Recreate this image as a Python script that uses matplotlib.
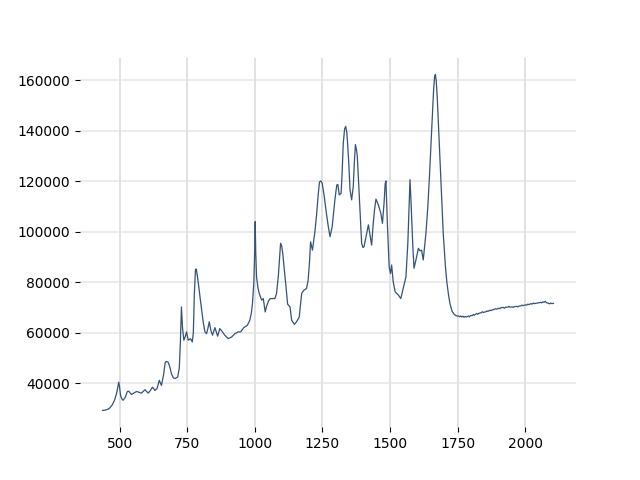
import matplotlib
matplotlib.use('Agg')
import matplotlib.pyplot as plt

# Espectro: (desplazamiento, intensidad)
puntos = [
    (436, 29300), (445, 29400), (455, 29700), (463, 30300), (472, 31500), (481, 33500),
    (489, 36500), (494, 39500), (496, 40500), (499, 38500), (503, 35000), (508, 33800),
    (512, 33300), (520, 34500), (528, 36800), (533, 36900), (543, 35600), (552, 36200),
    (562, 36800), (570, 36500), (580, 36150), (593, 37500), (605, 36150), (613, 37200),
    (621, 38500), (630, 37200), (638, 38000), (646, 41200), (654, 39200), (662, 43500),
    (668, 48300), (672, 48700), (679, 48400), (685, 46500), (691, 43850), (698, 42200),
    (704, 41900), (714, 42500), (720, 46000), (724, 56000), (728, 70300), (732, 62000),
    (737, 57100), (742, 58500), (747, 60400), (753, 57100), (762, 57700), (768, 56400),
    (772, 60000), (776, 76000), (780, 85200), (783, 85300), (787, 82500), (792, 78500),
    (797, 74000), (803, 69000), (809, 64000), (815, 60400), (821, 59700), (826, 61800),
    (831, 64400), (837, 61000), (843, 59100), (852, 62100), (862, 58700), (870, 61700),
    (880, 60400), (889, 59000), (901, 57750), (914, 58400), (926, 59700), (938, 60400),
    (947, 60400), (959, 62100), (972, 63000), (981, 65000), (987, 68000), (991, 71800),
    (996, 80000), (999, 92000), (1001, 104100), (1003, 92000), (1006, 82200),
    (1011, 78000), (1016, 75600), (1025, 73000), (1031, 73600), (1038, 68300),
    (1043, 70500), (1049, 72300), (1055, 73500), (1062, 73600), (1074, 73600),
    (1080, 75600), (1087, 83000), (1092, 91000), (1095, 95500), (1099, 94500),
    (1103, 91500), (1109, 85000), (1115, 78300), (1121, 71400), (1130, 70300),
    (1136, 65000), (1146, 63400), (1154, 64400), (1164, 66300), (1173, 75600),
    (1181, 76900), (1191, 77600), (1197, 80900), (1202, 88000), (1206, 96100),
    (1213, 92800), (1222, 100100), (1228, 106500), (1234, 114500), (1239, 119800),
    (1244, 120200), (1249, 119300), (1256, 114500), (1263, 108700), (1271, 102500),
    (1278, 98100), (1286, 102100), (1296, 112700), (1303, 118600), (1307, 118800),
    (1312, 114700), (1319, 115300), (1323, 124000), (1327, 135200), (1332, 140800),
    (1336, 141800), (1340, 139500), (1343, 135200), (1348, 126000), (1352, 116700),
    (1358, 112700), (1364, 118000), (1368, 127500), (1372, 134600), (1376, 132500),
    (1379, 129900), (1384, 119000), (1389, 108700), (1395, 95500), (1400, 93800),
    (1404, 94200), (1414, 99500), (1420, 102800), (1426, 98800), (1432, 94800),
    (1438, 103400), (1443, 109000), (1448, 113000), (1457, 110700), (1466, 107400),
    (1472, 103400), (1478, 111400), (1482, 119000), (1485, 120200), (1490, 104000),
    (1497, 86000), (1502, 83500), (1506, 86900), (1512, 80200), (1519, 76300),
    (1531, 75000), (1540, 73600), (1549, 77600), (1559, 82200), (1566, 95500),
    (1570, 108000), (1574, 120700), (1577, 114000), (1580, 106100), (1585, 93000),
    (1589, 85600), (1596, 88900), (1605, 93500), (1611, 92500), (1617, 92800),
    (1623, 88900), (1633, 99500), (1640, 110000), (1646, 122000), (1656, 144500),
    (1661, 155500), (1665, 161500), (1668, 162400), (1671, 160000), (1675, 153000),
    (1685, 128600), (1697, 99500), (1705, 86500), (1710, 80500), (1716, 75500),
    (1722, 71500), (1730, 68500), (1738, 67300), (1745, 66800), (1753, 66700),
    (1758, 66400), (1762, 66700), (1766, 66300), (1770, 66600), (1774, 66200),
    (1778, 66500), (1784, 66300), (1790, 66700), (1794, 66400), (1797, 66800),
    (1805, 66900), (1809, 67300), (1812, 67000), (1821, 67700), (1825, 67400),
    (1830, 67800), (1838, 68000), (1842, 68400), (1846, 68100), (1855, 68400),
    (1858, 68700), (1862, 68500), (1870, 69000), (1874, 68800), (1878, 69100),
    (1886, 69300), (1890, 69600), (1895, 69400), (1903, 69800), (1907, 69600),
    (1911, 70000), (1919, 70100), (1924, 69800), (1928, 70200), (1936, 70200),
    (1940, 70500), (1944, 70200), (1952, 70300), (1956, 70100), (1960, 70400),
    (1969, 70500), (1973, 70300), (1977, 70600), (1985, 70700), (1989, 71000),
    (1993, 70800), (2000, 71100), (2006, 71000), (2010, 71400), (2014, 71200),
    (2022, 71600), (2026, 71400), (2030, 71800), (2036, 71600), (2043, 71800),
    (2050, 71900), (2058, 72100), (2062, 71900), (2066, 72300), (2070, 72100),
    (2074, 72500), (2080, 71900), (2086, 71800), (2090, 71500), (2094, 71800),
    (2100, 71600), (2105, 71700),
]
shift = [p[0] for p in puntos]
intensity = [p[1] for p in puntos]

fig, ax = plt.subplots(figsize=(6.4, 4.8), dpi=100)
ax.plot(shift, intensity, color='#34527a', linewidth=0.9)
ax.set_xticks([500, 750, 1000, 1250, 1500, 1750, 2000])
ax.set_yticks([40000, 60000, 80000, 100000, 120000, 140000, 160000])
ax.grid(True, axis='x', color='#d4d4d4', alpha=0.8, linewidth=1.2)
ax.grid(True, axis='y', color='#e2e2e2', alpha=0.8, linewidth=1.2)
for s in ax.spines.values():
    s.set_visible(False)
plt.savefig('out.png')
